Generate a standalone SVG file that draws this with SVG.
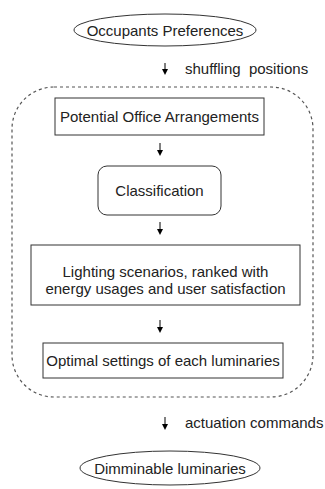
<svg xmlns="http://www.w3.org/2000/svg" width="325" height="489" viewBox="0 0 325 489">
<defs>
<marker id="ah" markerWidth="6" markerHeight="6" refX="3" refY="3" orient="auto" markerUnits="userSpaceOnUse">
<path d="M0,0 L6,3 L0,6 z" fill="#000"/>
</marker>
<style>
text{font-family:"Liberation Sans",Arial,sans-serif;font-size:15px;fill:#222}
.n{fill:#fff;stroke:#333;stroke-width:1}
.c{stroke:#000;stroke-width:1;fill:none;marker-end:url(#ah)}
</style>
</defs>
<rect width="325" height="489" fill="#fff"/>
<g id="container">
<rect x="12" y="87" width="301" height="310" rx="42" ry="42" fill="none" stroke="#555" stroke-width="1.2" stroke-dasharray="3,3"/>
</g>
<g id="connectors">
<line class="c" x1="165" y1="63" x2="165" y2="72"/>
<line class="c" x1="160" y1="143" x2="160" y2="153"/>
<line class="c" x1="160" y1="222" x2="160" y2="232"/>
<line class="c" x1="160" y1="320" x2="160" y2="330"/>
<line class="c" x1="165" y1="417" x2="165" y2="427"/>
<text x="185" y="74" xml:space="preserve">shuffling  positions</text>
<text x="185" y="428">actuation commands</text>
</g>
<g id="occupants">
<ellipse class="n" cx="165" cy="30" rx="91" ry="16"/>
<text x="165" y="35.5" text-anchor="middle">Occupants Preferences</text>
</g>
<g id="arrangements">
<rect class="n" x="55" y="98" width="209" height="37"/>
<text x="159.5" y="122" text-anchor="middle">Potential Office Arrangements</text>
</g>
<g id="classification">
<rect class="n" x="98" y="166" width="123" height="49" rx="9" ry="9"/>
<text x="159.5" y="196" text-anchor="middle">Classification</text>
</g>
<g id="scenarios">
<rect class="n" x="31" y="245" width="269" height="60"/>
<text x="165.5" y="277" text-anchor="middle">Lighting scenarios, ranked with</text>
<text x="165.5" y="294" text-anchor="middle">energy usages and user satisfaction</text>
</g>
<g id="optimal">
<rect class="n" x="43" y="343" width="240" height="35"/>
<text x="163" y="366" text-anchor="middle">Optimal settings of each luminaries</text>
</g>
<g id="dimmable">
<ellipse class="n" cx="170" cy="468" rx="90" ry="17"/>
<text x="170" y="473.5" text-anchor="middle">Dimminable luminaries</text>
</g>
</svg>
